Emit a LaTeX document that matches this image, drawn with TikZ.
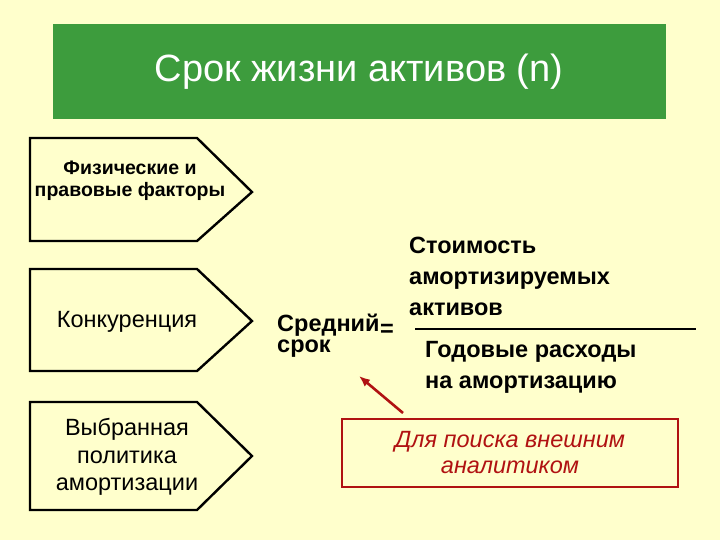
\documentclass[tikz,border=0pt]{standalone}
\usepackage{fontspec}
\setmainfont{Liberation Sans}
\usetikzlibrary{arrows.meta}
\definecolor{bg}{RGB}{255,255,204}
\definecolor{titlegreen}{RGB}{61,156,61}
\definecolor{darkred}{RGB}{176,18,18}
\tikzset{
  x=1pt, y=-1pt,
  pent/.style={draw=black, line width=2.4pt, line join=miter, fill=bg},
  boldtxt/.style={font=\bfseries\fontsize{19.5}{22}\selectfont, align=center, inner sep=0pt},
  regtxt/.style={font=\fontsize{23.5}{27.5}\selectfont, align=center, inner sep=0pt},
  fractxt/.style={font=\bfseries\fontsize{23.5}{31}\selectfont, align=left, inner sep=0pt, anchor=west},
  srtxt/.style={font=\bfseries\fontsize{23.5}{24}\selectfont, inner sep=0pt},
}
\begin{document}
\begin{tikzpicture}
\useasboundingbox (0,0) rectangle (720,540);
\fill[bg] (0,0) rectangle (720,540);
% title
\fill[titlegreen] (53,24) rectangle (666,119);
\node[font=\fontsize{38}{42}\selectfont, text=white, inner sep=0pt] (title) at (359,72) {Срок жизни активов (n)};
% pentagons
\draw[pent] (30,138) -- (197,138) -- (252,192) -- (197,241) -- (30,241) -- cycle;
\draw[pent] (30,269) -- (197,269) -- (252,321) -- (197,371) -- (30,371) -- cycle;
\draw[pent] (30,402) -- (197,402) -- (252,456) -- (197,510) -- (30,510) -- cycle;
\node[boldtxt] (f1) at (130,181) {Физические и\\правовые факторы};
\node[regtxt] (f2) at (127,322) {Конкуренция};
\node[regtxt] (f3) at (127,457) {Выбранная\\политика\\амортизации};
% formula
\node[srtxt, anchor=west] (sred) at (277,325) {Средний};
\node[srtxt, anchor=west] (srok) at (277,349) {срок};
\node[srtxt] (eq) at (387,330) {=};
\node[fractxt] (num) at (409,276) {Стоимость\\амортизируемых\\активов};
\node[fractxt] (den) at (425,367) {Годовые расходы\\на амортизацию};
\coordinate (fl) at (415,329);
\coordinate (fr) at (696,329);
\draw[line width=1.8pt] (fl) -- (fr);
% red box
\node[draw=darkred, line width=2.6pt, minimum width=336pt, minimum height=68pt, inner sep=0pt,
      font=\itshape\fontsize{23.5}{26}\selectfont, text=darkred, align=center] (note) at (510,453)
      {Для поиска внешним\\аналитиком};
\coordinate (atail) at (403,413);
\coordinate (ahead) at (359,376);
\draw[darkred, line width=2.6pt, -{Latex[length=11pt,width=9pt]}] (atail) -- (ahead);
\end{tikzpicture}
\end{document}
